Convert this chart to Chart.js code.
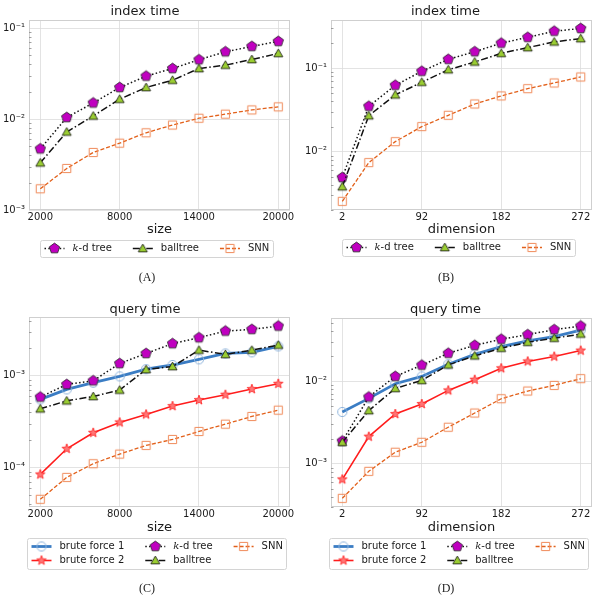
<!DOCTYPE html>
<html>
<head>
<meta charset="utf-8">
<title>index / query time</title>
<script src="https://cdn.jsdelivr.net/npm/chart.js@4/dist/chart.umd.min.js"></script>
<style>
  body { margin: 0; background: #fff; }
  #page { position: relative; width: 599px; height: 600px; overflow: hidden; background: #fff; }
  canvas { position: absolute; }
  .cap { position: absolute; width: 60px; margin-left: -30px; text-align: center;
         font: 12px "Liberation Serif", serif; color: #222; line-height: 14px; }
</style>
</head>
<body>
<div id="page">
  <canvas id="chartA" width="299" height="300" style="left:0;top:0"></canvas>
  <canvas id="chartB" width="300" height="300" style="left:299px;top:0"></canvas>
  <canvas id="chartC" width="299" height="300" style="left:0;top:300px"></canvas>
  <canvas id="chartD" width="300" height="300" style="left:299px;top:300px"></canvas>
  <div class="cap" style="left:147px;top:270px">(A)</div>
  <div class="cap" style="left:446px;top:270px">(B)</div>
  <div class="cap" style="left:147px;top:581px">(C)</div>
  <div class="cap" style="left:446px;top:581px">(D)</div>
</div>
<script>
// x values
const sizes = [2000, 4000, 6000, 8000, 10000, 12000, 14000, 16000, 18000, 20000];
const dims = [2, 32, 62, 92, 122, 152, 182, 212, 242, 272];

// tick positions
const sizeTicks = [2000, 8000, 14000, 20000];
const dimTicks = [2, 92, 182, 272];
const yTicksA = [1e-3, 1e-2, 1e-1];
const yTicksB = [1e-2, 1e-1];
const yTicksC = [1e-4, 1e-3];
const yTicksD = [1e-3, 1e-2];

// (A) index time vs size
const kdIndexSize = [0.0047, 0.0104, 0.0150, 0.0222, 0.0296, 0.0359, 0.0448, 0.0548, 0.0628, 0.0713];
const ballIndexSize = [0.0033, 0.0072, 0.0108, 0.0165, 0.0222, 0.0267, 0.0359, 0.0391, 0.0451, 0.0526];
const snnIndexSize = [0.00171, 0.00286, 0.00429, 0.00543, 0.00706, 0.00859, 0.0102, 0.0113, 0.0126, 0.0136];

// (B) index time vs dimension
const kdIndexDim = [0.0049, 0.035, 0.0625, 0.092, 0.128, 0.158, 0.200, 0.235, 0.278, 0.300];
const ballIndexDim = [0.0038, 0.027, 0.048, 0.068, 0.096, 0.119, 0.151, 0.177, 0.207, 0.227];
const snnIndexDim = [0.00254, 0.0074, 0.0132, 0.020, 0.0273, 0.0373, 0.0466, 0.057, 0.0667, 0.0787];

// (C) query time vs size
const bf1QuerySize = [0.000552, 0.00071, 0.00084, 0.000984, 0.00118, 0.00131, 0.00151, 0.00175, 0.0018, 0.00209];
const bf2QuerySize = [0.000084, 0.00016, 0.000239, 0.00031, 0.000379, 0.000467, 0.000543, 0.000621, 0.000716, 0.000818];
const kdQuerySize = [0.000585, 0.000804, 0.000882, 0.00136, 0.00175, 0.00224, 0.0026, 0.00307, 0.0032, 0.00348];
const ballQuerySize = [0.000436, 0.000533, 0.000595, 0.000698, 0.00117, 0.00126, 0.0019, 0.00171, 0.0019, 0.00216];
const snnQuerySize = [0.000045, 0.000078, 0.00011, 0.00014, 0.000174, 0.000202, 0.000247, 0.000297, 0.00036, 0.000422];

// (D) query time vs dimension
const bf1QueryDim = [0.00423, 0.00618, 0.0093, 0.0114, 0.016, 0.0211, 0.0262, 0.0306, 0.0345, 0.0415];
const bf2QueryDim = [0.000647, 0.00213, 0.0040, 0.00528, 0.00772, 0.0104, 0.0143, 0.0173, 0.0198, 0.0234];
const kdQueryDim = [0.00188, 0.00642, 0.0114, 0.0156, 0.0217, 0.0271, 0.0321, 0.0365, 0.0419, 0.0464];
const ballQueryDim = [0.00182, 0.0044, 0.00816, 0.0102, 0.0157, 0.0202, 0.025, 0.0295, 0.033, 0.0371];
const snnQueryDim = [0.000382, 0.00081, 0.00138, 0.00182, 0.00277, 0.00411, 0.00612, 0.00758, 0.00887, 0.0107];

const FONT = '"DejaVu Sans", sans-serif';
const TEXT = '#1a1a1a';

// little canvases used as point styles (pentagon, triangle, star ...)
function marker(shape, r, fill, stroke, lw) {
  const c = document.createElement('canvas');
  const s = Math.ceil(2 * r + 4);
  c.width = s; c.height = s;
  const ctx = c.getContext('2d');
  ctx.translate(s / 2, s / 2);
  ctx.beginPath();
  if (shape === 'circle') {
    ctx.arc(0, 0, r, 0, 2 * Math.PI);
  } else if (shape === 'square') {
    ctx.rect(-r, -r, 2 * r, 2 * r);
  } else {
    const n = shape === 'pentagon' ? 5 : shape === 'triangle' ? 3 : 10;
    for (let k = 0; k < n; k++) {
      const a = -Math.PI / 2 + k * 2 * Math.PI / n;
      const rr = shape === 'star' && k % 2 ? r * 0.42 : r;
      const px = rr * Math.cos(a), py = rr * Math.sin(a) + (shape === 'triangle' ? r * 0.15 : 0);
      if (k === 0) ctx.moveTo(px, py); else ctx.lineTo(px, py);
    }
  }
  ctx.closePath();
  if (fill) { ctx.fillStyle = fill; ctx.fill(); }
  ctx.lineWidth = lw;
  ctx.strokeStyle = stroke;
  ctx.stroke();
  return c;
}

const styles = {
  bf1: { label: 'brute force 1', color: '#3b7dc4', width: 2.8, dash: [], marker: marker('circle', 4.6, null, '#8fb4dc', 1) },
  bf2: { label: 'brute force 2', color: '#ff1c1c', width: 1.6, dash: [], marker: marker('star', 5, '#ff7777', '#ff1c1c', 0.8) },
  kd: { label: 'k-d tree', color: '#111111', width: 1.5, dash: [1.5, 2.3], marker: marker('pentagon', 5.4, '#c000c0', '#222222', 0.8) },
  ball: { label: 'balltree', color: '#111111', width: 1.5, dash: [7, 2.5, 1.5, 2.5], marker: marker('triangle', 5.2, '#9acd32', '#111111', 0.8) },
  snn: { label: 'SNN', color: '#e2601a', width: 1.3, dash: [4, 2], marker: marker('square', 4.1, null, '#f08a5a', 1) }
};

function series(key, xs, ys, idx) {
  const s = styles[key];
  return {
    label: s.label,
    styleKey: key,
    data: xs.map((x, i) => ({ x: x, y: ys[i] })),
    borderColor: s.color,
    backgroundColor: s.color,
    borderWidth: s.width,
    borderDash: s.dash,
    pointStyle: s.marker,
    pointRadius: 4,
    pointHoverRadius: 4,
    tension: 0,
    order: 10 - idx
  };
}

function sup(v) {
  const map = { '-': '⁻', '0': '⁰', '1': '¹', '2': '²', '3': '³', '4': '⁴', '5': '⁵', '6': '⁶', '7': '⁷', '8': '⁸', '9': '⁹' };
  const e = String(Math.round(Math.log10(v)));
  return '10' + e.split('').map(ch => map[ch]).join('');
}

// frame + small minor ticks on the log axis
const frame = {
  id: 'frame',
  beforeDatasetsDraw(chart) {
    const a = chart.chartArea, ctx = chart.ctx, y = chart.scales.y;
    ctx.save();
    ctx.strokeStyle = '#cfcfcf';
    ctx.lineWidth = 1;
    ctx.strokeRect(Math.round(a.left) + 0.5, Math.round(a.top) + 0.5,
      Math.round(a.right - a.left) - 1, Math.round(a.bottom - a.top) - 1);
    ctx.strokeStyle = '#8a8a8a';
    ctx.lineWidth = 0.8;
    const lo = Math.floor(Math.log10(y.min)), hi = Math.ceil(Math.log10(y.max));
    for (let e = lo; e < hi; e++) {
      for (let m = 2; m <= 9; m++) {
        const v = m * Math.pow(10, e);
        if (v < y.min || v > y.max) continue;
        const py = Math.round(y.getPixelForValue(v)) + 0.5;
        ctx.beginPath();
        ctx.moveTo(a.left, py);
        ctx.lineTo(a.left + 2.5, py);
        ctx.stroke();
      }
    }
    ctx.restore();
  }
};

// matplotlib-like legend: line handle with one marker, column-major layout, framed
const HANDLE = 20, GAP = 8, COLSP = 21, PADX = 4, PADY = 1.5, ROWH = 14;
function labelWidth(ctx, text) {
  if (text.startsWith('k-')) {
    ctx.font = 'italic 10px "DejaVu Serif", serif';
    const w = ctx.measureText('k').width;
    ctx.font = '10px ' + FONT;
    return w + ctx.measureText(text.slice(1)).width;
  }
  ctx.font = '10px ' + FONT;
  return ctx.measureText(text).width;
}
function drawLabel(ctx, text, x, y) {
  ctx.fillStyle = TEXT;
  ctx.textBaseline = 'middle';
  ctx.textAlign = 'left';
  if (text.startsWith('k-')) {
    ctx.font = 'italic 10px "DejaVu Serif", serif';
    ctx.fillText('k', x, y);
    x += ctx.measureText('k').width;
    text = text.slice(1);
  }
  ctx.font = '10px ' + FONT;
  ctx.fillText(text, x, y);
}
const legendBox = {
  id: 'legendBox',
  afterDraw(chart, args, opts) {
    const ctx = chart.ctx;
    const items = chart.data.datasets;
    const rows = opts.rows;
    const cols = Math.ceil(items.length / rows);
    ctx.save();
    const widths = items.map(d => labelWidth(ctx, d.label));
    const colW = [];
    for (let c = 0; c < cols; c++) {
      let m = 0;
      for (let r = 0; r < rows; r++) {
        const k = c * rows + r;
        if (k < items.length) m = Math.max(m, widths[k]);
      }
      colW.push(HANDLE + GAP + m);
    }
    const total = 2 * PADX + colW.reduce((a, b) => a + b, 0) + (cols - 1) * COLSP;
    const h = 2 * PADY + rows * ROWH;
    const left = Math.round(opts.cx - total / 2) + 0.5, top = opts.top + 0.5;
    ctx.fillStyle = '#ffffff';
    ctx.strokeStyle = '#d4d4d4';
    ctx.lineWidth = 1;
    ctx.beginPath();
    ctx.roundRect(left, top, Math.round(total), h, 2);
    ctx.fill();
    ctx.stroke();
    let cx = left + PADX;
    for (let c = 0; c < cols; c++) {
      for (let r = 0; r < rows; r++) {
        const k = c * rows + r;
        if (k >= items.length) continue;
        const s = styles[items[k].styleKey];
        const y = opts.top + PADY + ROWH * (r + 0.5);
        ctx.save();
        ctx.strokeStyle = s.color;
        ctx.lineWidth = s.width;
        ctx.setLineDash(s.dash);
        ctx.beginPath();
        ctx.moveTo(cx, y);
        ctx.lineTo(cx + HANDLE, y);
        ctx.stroke();
        ctx.restore();
        ctx.drawImage(s.marker, cx + HANDLE / 2 - s.marker.width / 2, y - s.marker.height / 2);
        drawLabel(ctx, items[k].label, cx + HANDLE + GAP, y);
      }
      cx += colW[c] + COLSP;
    }
    ctx.restore();
  }
};

function panel(id, geo, title, xTitle, xRange, xTicks, yRange, yTicks, datasets) {
  const W = document.getElementById(id).width, H = 300;
  const titleHalf = 6.5;
  const xH = geo.xTitleY + 6.5 - geo.b;
  return new Chart(document.getElementById(id), {
    type: 'line',
    data: { datasets: datasets },
    plugins: [frame, legendBox],
    options: {
      responsive: false,
      animation: false,
      devicePixelRatio: 1,
      layout: { padding: { left: 0, top: 0, right: W - geo.r, bottom: H - geo.b - xH } },
      plugins: {
        legend: { display: false },
        tooltip: { enabled: false },
        title: {
          display: true, text: title, color: TEXT,
          font: { family: FONT, size: 13, weight: 'normal', lineHeight: 1 },
          padding: { top: geo.titleY - titleHalf, bottom: geo.t - geo.titleY - titleHalf }
        },
        legendBox: { cx: geo.legCx, top: geo.legTop, rows: geo.legRows }
      },
      scales: {
        x: {
          type: 'linear', min: xRange[0], max: xRange[1],
          afterBuildTicks: s => { s.ticks = xTicks.map(v => ({ value: v })); },
          afterFit: s => { s.height = xH; },
          grid: { color: '#dcdcdc', lineWidth: 0.8, drawTicks: false },
          border: { display: false },
          ticks: { color: TEXT, font: { family: FONT, size: 10 }, padding: 1, maxRotation: 0, autoSkip: false,
                   callback: v => String(v) },
          title: { display: true, text: xTitle, color: TEXT, padding: 0, font: { family: FONT, size: 13, lineHeight: 1 } }
        },
        y: {
          type: 'logarithmic', min: yRange[0], max: yRange[1],
          afterBuildTicks: s => { s.ticks = yTicks.map(v => ({ value: v, major: true })); },
          afterFit: s => { s.width = geo.l; },
          grid: { color: '#dcdcdc', lineWidth: 0.8, drawTicks: false },
          border: { display: false },
          ticks: { color: TEXT, font: { family: FONT, size: 10 }, padding: 4, autoSkip: false, callback: v => sup(v) }
        }
      }
    }
  });
}

const geoA = { l: 29, r: 290, t: 20, b: 210, titleY: 12, xTitleY: 230, legCx: 156, legTop: 240, legRows: 1 };
const geoB = { l: 32, r: 293, t: 20, b: 210, titleY: 12, xTitleY: 230, legCx: 159.5, legTop: 239, legRows: 1 };
const geoC = { l: 29, r: 290, t: 17, b: 207, titleY: 10, xTitleY: 228, legCx: 157, legTop: 238, legRows: 2 };
const geoD = { l: 32, r: 293, t: 18, b: 207, titleY: 10, xTitleY: 228, legCx: 160, legTop: 238, legRows: 2 };

panel('chartA', geoA, 'index time', 'size', [1145, 20885], sizeTicks, [1e-3, 0.1225], yTicksA, [
  series('kd', sizes, kdIndexSize, 0),
  series('ball', sizes, ballIndexSize, 1),
  series('snn', sizes, snnIndexSize, 2)
]);
panel('chartB', geoB, 'index time', 'dimension', [-10.8, 284.8], dimTicks, [0.002, 0.379], yTicksB, [
  series('kd', dims, kdIndexDim, 0),
  series('ball', dims, ballIndexDim, 1),
  series('snn', dims, snnIndexDim, 2)
]);
panel('chartC', geoC, 'query time', 'size', [1145, 20885], sizeTicks, [3.71e-5, 0.00437], yTicksC, [
  series('bf1', sizes, bf1QuerySize, 0),
  series('bf2', sizes, bf2QuerySize, 1),
  series('kd', sizes, kdQuerySize, 2),
  series('ball', sizes, ballQuerySize, 3),
  series('snn', sizes, snnQuerySize, 4)
]);
panel('chartD', geoD, 'query time', 'dimension', [-10.8, 284.8], dimTicks, [0.000306, 0.058], yTicksD, [
  series('bf1', dims, bf1QueryDim, 0),
  series('bf2', dims, bf2QueryDim, 1),
  series('kd', dims, kdQueryDim, 2),
  series('ball', dims, ballQueryDim, 3),
  series('snn', dims, snnQueryDim, 4)
]);
</script>
</body>
</html>
